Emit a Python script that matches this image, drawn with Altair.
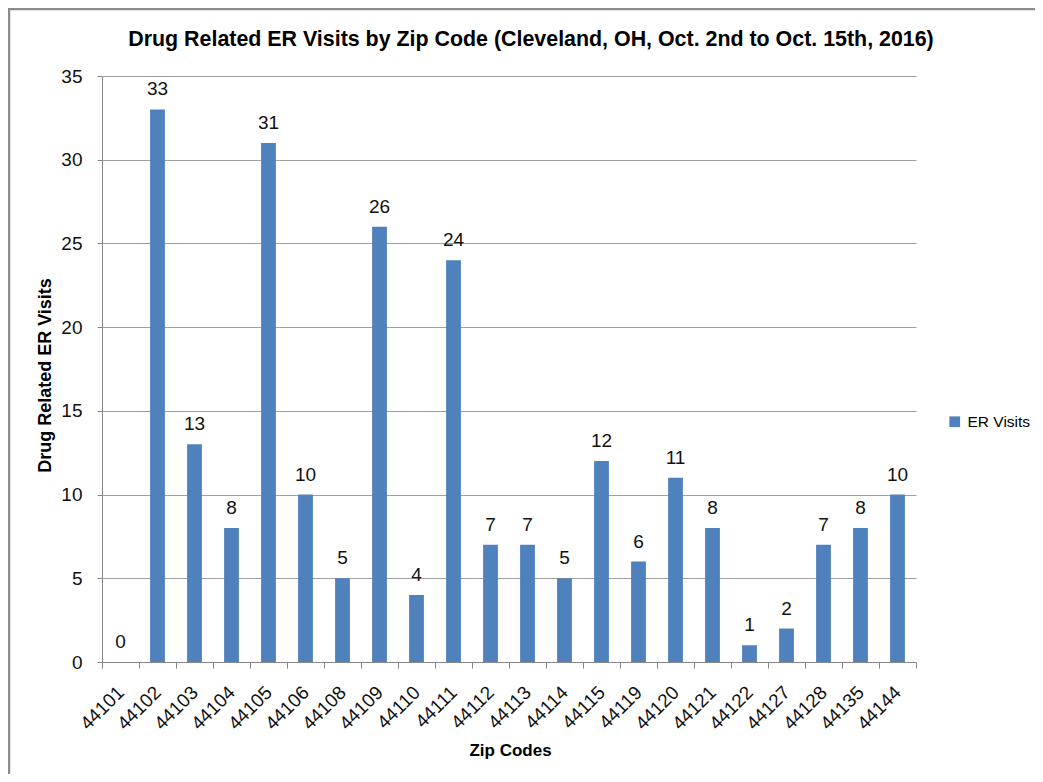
import altair as alt
import pandas as pd

zips = ["44101", "44102", "44103", "44104", "44105", "44106", "44108", "44109",
        "44110", "44111", "44112", "44113", "44114", "44115", "44119", "44120",
        "44121", "44122", "44127", "44128", "44135", "44144"]
visits = [0, 33, 13, 8, 31, 10, 5, 26, 4, 24, 7, 7, 5, 12, 6, 11, 8, 1, 2, 7, 8, 10]
series = "ER Visits"
y_ticks = [0, 5, 10, 15, 20, 25, 30, 35]
title_text = "Drug Related ER Visits by Zip Code (Cleveland, OH, Oct. 2nd to Oct. 15th, 2016)"

df = pd.DataFrame({"zip": zips, "visits": visits, "series": [series] * len(zips)})

FONT = "Liberation Sans"
BAR = "#4F81BD"
W, H = 814, 586

x_enc = alt.X(
    "zip:N", sort=zips,
    scale=alt.Scale(paddingInner=0, paddingOuter=0),
    axis=alt.Axis(
        title="Zip Codes", labelAngle=-45, labelAlign="right", labelBaseline="middle",
        labelFontSize=19, labelColor="#111", labelPadding=21,
        tickBand="extent", tickSize=6, tickColor="#868686",
        domainColor="#868686", grid=False,
        titleFontSize=17, titleFontWeight="bold", titleColor="#000",
        titleX=408, titleY=88, titleBaseline="middle", titleAlign="center",
    ),
)
y_enc = alt.Y(
    "visits:Q",
    scale=alt.Scale(domain=[0, 35], nice=False),
    axis=alt.Axis(
        title="Drug Related ER Visits", values=y_ticks, format="d",
        labelFontSize=19, labelColor="#111", labelPadding=15,
        tickSize=5, tickColor="#868686", domainColor="#868686",
        grid=True, gridColor="#A0A0A0",
        titleFontSize=18, titleFontWeight="bold", titleColor="#000",
        titleX=-57, titleY=299, titleBaseline="middle", titleAlign="center",
        titleAngle=270,
    ),
)

bars = alt.Chart(df).mark_bar(width=alt.RelativeBandSize(0.4)).encode(
    x=x_enc,
    y=y_enc,
    color=alt.Color(
        "series:N",
        scale=alt.Scale(domain=[series], range=[BAR]),
        legend=alt.Legend(
            title=None, orient="none", legendX=845, legendY=338,
            symbolType="square", symbolSize=115, symbolStrokeWidth=0,
            labelFontSize=15.5, labelColor="#000", labelOffset=5,
        ),
    ),
)

labels = alt.Chart(df).mark_text(
    dy=-14, baseline="alphabetic", fontSize=19, color="#111", font=FONT
).encode(
    x=alt.X("zip:N", sort=zips),
    y="visits:Q",
    text="visits:Q",
)

border = alt.Chart(alt.Data(values=[{"a": 1}])).mark_rect(
    fill=None, stroke="#8C8C8C", strokeWidth=2.5
).encode(
    x=alt.value(-93), x2=alt.value(W + 200),
    y=alt.value(-67), y2=alt.value(H + 300),
)

title = alt.Chart(alt.Data(values=[{"t": title_text}])).mark_text(
    fontSize=21.4, fontWeight="bold", color="#000", font=FONT,
    align="center", baseline="alphabetic",
).encode(
    x=alt.value(429), y=alt.value(-30), text="t:N",
)

chart = alt.layer(border, bars, labels, title).properties(
    width=W, height=H,
    autosize=alt.AutoSizeParams(type="none"),
    padding={"left": 94, "top": 68, "right": 119, "bottom": 112},
).configure(
    font=FONT, background="white"
).configure_view(stroke=None)

chart.save("out.html", embed_options={"renderer": "svg", "actions": False})
